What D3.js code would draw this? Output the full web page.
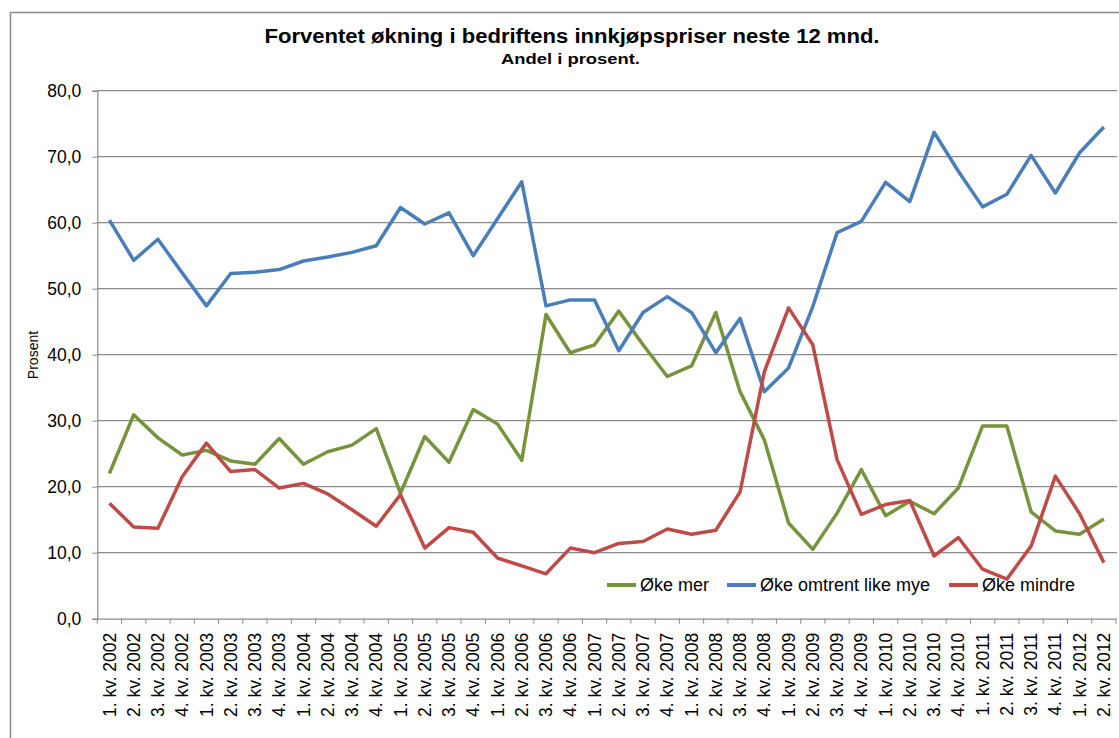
<!DOCTYPE html>
<html>
<head>
<meta charset="utf-8">
<script src="https://cdn.jsdelivr.net/npm/d3@7"></script>
<style>
    body { margin: 0; background: #fff; }
    svg { display: block; font-family: "Liberation Sans", Arial, sans-serif; }
</style>
</head>
<body>
<div id="graph"></div>
<script>
// Data
const categories = [
    "1. kv. 2002", "2. kv. 2002", "3. kv. 2002", "4. kv. 2002",
    "1. kv. 2003", "2. kv. 2003", "3. kv. 2003", "4. kv. 2003",
    "1. kv. 2004", "2. kv. 2004", "3. kv. 2004", "4. kv. 2004",
    "1. kv. 2005", "2. kv. 2005", "3. kv. 2005", "4. kv. 2005",
    "1. kv. 2006", "2. kv. 2006", "3. kv. 2006", "4. kv. 2006",
    "1. kv. 2007", "2. kv. 2007", "3. kv. 2007", "4. kv. 2007",
    "1. kv. 2008", "2. kv. 2008", "3. kv. 2008", "4. kv. 2008",
    "1. kv. 2009", "2. kv. 2009", "3. kv. 2009", "4. kv. 2009",
    "1. kv. 2010", "2. kv. 2010", "3. kv. 2010", "4. kv. 2010",
    "1. kv. 2011", "2. kv. 2011", "3. kv. 2011", "4. kv. 2011",
    "1. kv. 2012", "2. kv. 2012"
]

const okeMer = [22.0, 30.9, 27.4, 24.8, 25.5, 23.9, 23.4, 27.3, 23.4, 25.3, 26.3, 28.8,
    19.0, 27.6, 23.7, 31.7, 29.5, 24.0, 46.1, 40.3, 41.5, 46.6, 41.5, 36.7, 38.3, 46.4,
    34.4, 27.1, 14.5, 10.5, 16.0, 22.6, 15.6, 17.8, 15.9, 19.8, 29.2, 29.2, 16.2, 13.3, 12.8, 15.1]

const okeLikeMye = [60.4, 54.3, 57.5, 52.4, 47.4, 52.3, 52.5, 52.9, 54.2, 54.8, 55.5, 56.5,
    62.3, 59.8, 61.5, 55.0, 60.6, 66.2, 47.4, 48.3, 48.3, 40.6, 46.4, 48.8, 46.4, 40.3,
    45.5, 34.4, 38.0, 47.3, 58.5, 60.2, 66.1, 63.2, 73.7, 67.8, 62.4, 64.3, 70.2, 64.5, 70.6, 74.5]

const okeMindre = [17.5, 13.9, 13.7, 21.5, 26.6, 22.3, 22.6, 19.8, 20.5, 18.9, 16.5, 14.0,
    18.8, 10.7, 13.8, 13.1, 9.2, 8.0, 6.8, 10.7, 10.0, 11.4, 11.7, 13.6, 12.8, 13.4,
    19.2, 37.4, 47.1, 41.5, 24.1, 15.8, 17.3, 17.9, 9.5, 12.3, 7.5, 6.0, 11.0, 21.6, 15.9, 8.5]

const seriesNames = ["Øke mer", "Øke omtrent like mye", "Øke mindre"]
const yTicks = [0, 10, 20, 30, 40, 50, 60, 70, 80]

const series = [
    {name: seriesNames[0], values: okeMer, color: "#77933C"},
    {name: seriesNames[1], values: okeLikeMye, color: "#4A7EBB"},
    {name: seriesNames[2], values: okeMindre, color: "#BE4B48"},
]

const width = 1119, height = 738
const plot = {left: 97.3, right: 1116, top: 90.7, bottom: 618.7}

const svg = d3.select("#graph")
    .append("svg")
    .attr("width", width)
    .attr("height", height)

// Chart border
svg.append("path")
    .attr("d", `M10.5,${height} V12.5 H${width}`)
    .attr("fill", "none")
    .attr("stroke", "#8c8c8c")
    .attr("stroke-width", 1.5)

// Scales
const x = d3.scaleBand()
    .domain(categories)
    .range([plot.left, plot.right])

const y = d3.scaleLinear()
    .domain([0, 80])
    .range([plot.bottom, plot.top])

// Gridlines
svg.append("g")
    .selectAll("line")
    .data(yTicks.filter(d => d > 0))
    .join("line")
    .attr("x1", plot.left)
    .attr("x2", plot.right + 1)
    .attr("y1", d => y(d))
    .attr("y2", d => y(d))
    .attr("stroke", "#8a8a8a")
    .attr("stroke-width", 1.2)

// Y axis
const yAxis = svg.append("g")
    .attr("transform", `translate(${plot.left},0)`)
    .call(d3.axisLeft(y)
        .tickValues(yTicks)
        .tickSize(5)
        .tickPadding(11)
        .tickFormat(d => d3.format(".1f")(d).replace(".", ",")))

yAxis.select(".domain").attr("stroke", "#8a8a8a").attr("stroke-width", 1.2)
yAxis.selectAll(".tick line").attr("stroke", "#8a8a8a")
yAxis.selectAll("text")
    .attr("font-size", "17.5px")
    .attr("fill", "#000")

// X axis
const xAxis = svg.append("g")
    .attr("transform", `translate(0,${plot.bottom})`)
    .call(d3.axisBottom(x).tickSize(0).tickPadding(0))

xAxis.select(".domain").attr("stroke", "#8a8a8a").attr("stroke-width", 1.2)
xAxis.selectAll(".tick text")
    .attr("font-size", "17.5px")
    .attr("fill", "#000")
    .attr("text-anchor", "end")
    .attr("transform", "rotate(-90)")
    .attr("x", -14)
    .attr("y", 0)
    .attr("dy", "0.35em")

// Tick marks between the categories
xAxis.append("g")
    .selectAll("line")
    .data(d3.range(categories.length + 1))
    .join("line")
    .attr("x1", i => plot.left + i * x.step())
    .attr("x2", i => plot.left + i * x.step())
    .attr("y1", 0)
    .attr("y2", 5)
    .attr("stroke", "#8a8a8a")

// Lines
const line = d3.line()
    .x((d, i) => x(categories[i]) + x.bandwidth() / 2)
    .y(d => y(d))

svg.append("g")
    .selectAll("path")
    .data(series)
    .join("path")
    .attr("d", d => line(d.values))
    .attr("fill", "none")
    .attr("stroke", d => d.color)
    .attr("stroke-width", 3.5)
    .attr("stroke-linejoin", "round")

// Legend
const legendPos = [607, 727, 949]
const legend = svg.append("g")
    .selectAll("g")
    .data(series)
    .join("g")
    .attr("transform", (d, i) => `translate(${legendPos[i]},585)`)

legend.append("line")
    .attr("x1", 0)
    .attr("x2", 29)
    .attr("stroke", d => d.color)
    .attr("stroke-width", 4)

legend.append("text")
    .attr("x", 33)
    .attr("dy", "0.35em")
    .attr("font-size", "18px")
    .attr("fill", "#000")
    .text(d => d.name)

// Titles
svg.append("text")
    .attr("x", 572)
    .attr("y", 43)
    .attr("text-anchor", "middle")
    .attr("font-weight", "bold")
    .attr("font-size", "20px")
    .attr("textLength", 615)
    .attr("lengthAdjust", "spacingAndGlyphs")
    .text("Forventet økning i bedriftens innkjøpspriser neste 12 mnd.")

svg.append("text")
    .attr("x", 570.5)
    .attr("y", 64)
    .attr("text-anchor", "middle")
    .attr("font-weight", "bold")
    .attr("font-size", "14.5px")
    .attr("textLength", 139)
    .attr("lengthAdjust", "spacingAndGlyphs")
    .text("Andel i prosent.")

svg.append("text")
    .attr("transform", "translate(38,355) rotate(-90)")
    .attr("text-anchor", "middle")
    .attr("font-size", "14px")
    .text("Prosent")
</script>
</body>
</html>
